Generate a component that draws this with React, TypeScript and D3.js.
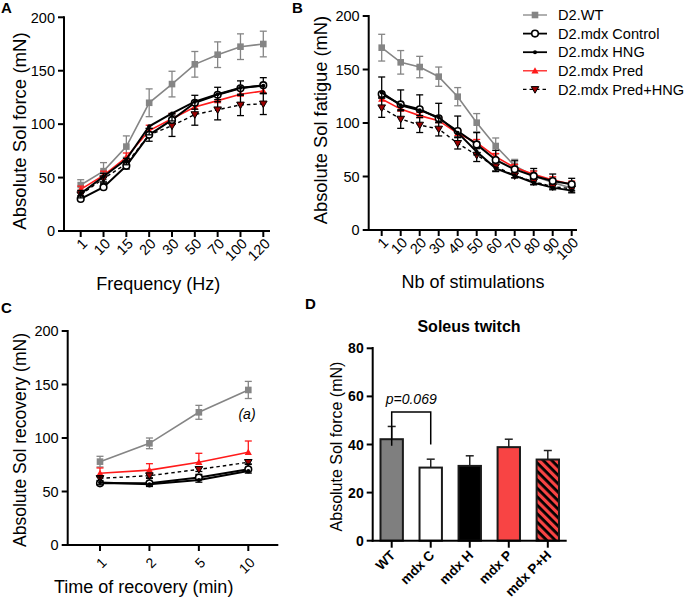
import React from "react";
import * as d3 from "d3";

// ---------- data ----------
const seriesNames = ["D2.WT", "D2.mdx Control", "D2.mdx HNG", "D2.mdx Pred", "D2.mdx Pred+HNG"];

const freqCats = ["1", "10", "15", "20", "30", "50", "70", "100", "120"];
const forceWT = [43, 56, 79, 120, 137.5, 156, 165, 172.5, 175];
const forceWTErr = [5, 8, 10, 13, 12, 12, 12, 12, 12];
const forceCtrl = [30, 41, 61, 90, 104, 120, 127.5, 133.5, 136.5];
const forceCtrlErr = [3, 4, 4, 6, 6, 7, 7, 7, 7];
const forceHNG = [35, 51, 67, 98, 110, 121, 128, 134, 136];
const forceHNGErr = [4, 5, 5, 8, 7, 7, 7, 7, 7.5];
const forcePred = [39, 52, 69, 94, 105, 116, 122, 128, 131];
const forcePredErr = [3, 4, 4, 5, 5, 5, 5, 5, 5];
const forcePH = [34, 49, 63, 90, 98.5, 109, 113.5, 118, 119];
const forcePHErr = [4, 5, 5, 6, 10, 10, 9.5, 10, 10];

const stimCats = ["1", "10", "20", "30", "40", "50", "60", "70", "80", "90", "100"];
const fatWT = [170.4, 156.7, 152.3, 143.3, 124.6, 100.3, 78.5, 60, 50.5, 44.5, 39];
const fatWTErr = [12.5, 11, 10, 9, 8.5, 8.5, 7.5, 6, 5, 4, 4];
const fatCtrl = [127, 117.4, 112.8, 104.4, 92.5, 80, 65.4, 56.7, 50.5, 45.8, 42.7];
const fatCtrlErr = [16, 13.5, 13.5, 14, 14, 11, 9, 8, 7, 6.5, 5.6];
const fatHNG = [128.5, 116.5, 112, 105.3, 91, 73.2, 57.6, 50.8, 44.2, 39.6, 36.8];
const fatHNGErr = [5, 5, 5, 5, 4, 3, 3, 2, 2, 2, 2];
const fatPred = [122.4, 113, 106.9, 102.2, 90.3, 81.6, 68.5, 58.3, 52, 46.7, 42.7];
const fatPredErr = [3, 3, 3, 3, 3, 3, 3, 3, 3, 3, 3];
const fatPH = [114.3, 103.7, 98.1, 94.4, 81, 70, 59.2, 50.8, 45.2, 40.5, 38.6];
const fatPHErr = [9, 8.7, 7, 6.5, 5.3, 6, 4, 2, 2.5, 2, 2];

const recCats = ["1", "2", "5", "10"];
const recWT = [77.9, 95, 124, 144.9];
const recWTErr = [5, 5, 6.5, 8];
const recCtrl = [57.6, 57.6, 63, 70.7];
const recCtrlErr = [6, 4.6, 3, 5];
const recHNG = [58.3, 56.7, 60.7, 69.2];
const recHNGErr = [2, 2, 2, 2];
const recPred = [67, 70, 77.3, 86.6];
const recPredErr = [5, 6, 8.4, 10.6];
const recPH = [62.3, 64.8, 70.7, 77.3];
const recPHErr = [2, 2, 2, 2];

const twitchCats = ["WT", "mdx C", "mdx H", "mdx P", "mdx P+H"];
const twitchMean = [42.2, 30.4, 31.1, 38.9, 33.75];
const twitchErr = [5.3, 3.5, 4.2, 3.3, 3.75];

const yTicks = [0, 50, 100, 150, 200];
const twitchTicks = [0, 20, 40, 60, 80];

// ---------- styles ----------
const FONT = "'Liberation Sans', Arial, sans-serif";
const GRAY = "#858585";
const RED = "#ff1a1a";
const BAR_RED = "#f84444";

type Dir = "both" | "up" | "down";
interface SeriesStyle {
  color: string;
  width: number;
  dash?: string;
  marker: "square" | "circle" | "dot" | "triUp" | "triDown";
  errColor: string;
  dir: Dir;
}
const styles: SeriesStyle[] = [
  { color: GRAY, width: 1.6, marker: "square", errColor: GRAY, dir: "both" },
  { color: "#000", width: 2, marker: "circle", errColor: "#000", dir: "up" },
  { color: "#000", width: 2, marker: "dot", errColor: "#000", dir: "down" },
  { color: RED, width: 1.6, marker: "triUp", errColor: RED, dir: "up" },
  { color: "#000", width: 1.4, dash: "3.5,3", marker: "triDown", errColor: "#000", dir: "both" },
];

function Marker({ kind, x, y }: { kind: SeriesStyle["marker"]; x: number; y: number }) {
  if (kind === "square") return <rect x={x - 3.3} y={y - 3.3} width={6.6} height={6.6} fill={GRAY} />;
  if (kind === "circle")
    return <circle cx={x} cy={y} r={3.3} fill="#fff" stroke="#000" strokeWidth={1.6} />;
  if (kind === "dot") return <circle cx={x} cy={y} r={2} fill="#000" />;
  if (kind === "triUp")
    return <path d={`M${x},${y - 3.6}L${x + 3.6},${y + 2.6}L${x - 3.6},${y + 2.6}Z`} fill={RED} />;
  return (
    <path
      d={`M${x - 3.8},${y - 2.8}L${x + 3.8},${y - 2.8}L${x},${y + 3.8}Z`}
      fill="#9b0000"
      stroke="#000"
      strokeWidth={1}
    />
  );
}

interface LinePanelProps {
  cats: string[];
  values: number[][];
  errs: number[][];
  axisX: number;
  y0: number;
  yTop: number;
  firstX: number;
  lastX: number;
  axisEnd: number;
  yTitle: string;
  xTitle: string;
  xTitleX: number;
  xTitleY: number;
  yTitleX: number;
  yTitleY: number;
  yTitleSize: number;
  tickFont?: number;
  labelDx?: number;
  labelDy?: number;
}

function LinePanel(p: LinePanelProps) {
  const x = d3.scalePoint<string>().domain(p.cats).range([p.firstX, p.lastX]);
  const y = d3.scaleLinear().domain([0, 200]).range([p.y0, p.yTop]);
  const order = [0, 3, 4, 1, 2];
  const ldx = p.labelDx ?? 4;
  const ldy = p.labelDy ?? 10;
  return (
    <g fontFamily={FONT}>
      {/* series: error bars, lines, markers */}
      {order.map((si) => {
        const st = styles[si];
        const vals = p.values[si];
        const errs = p.errs[si];
        const line = d3
          .line<number>()
          .x((_, i) => x(p.cats[i])!)
          .y((v) => y(v));
        return (
          <g key={si}>
            {vals.map((v, i) => {
              const cx = x(p.cats[i])!;
              const hi = st.dir === "down" ? v : v + errs[i];
              const lo = st.dir === "up" ? v : v - errs[i];
              return (
                <g key={i} stroke={st.errColor} strokeWidth={1.3}>
                  <line x1={cx} x2={cx} y1={y(hi)} y2={y(lo)} />
                  {st.dir !== "down" && <line x1={cx - 3.5} x2={cx + 3.5} y1={y(hi)} y2={y(hi)} />}
                  {st.dir !== "up" && <line x1={cx - 3.5} x2={cx + 3.5} y1={y(lo)} y2={y(lo)} />}
                </g>
              );
            })}
            <path
              d={line(vals)!}
              fill="none"
              stroke={st.color}
              strokeWidth={st.width}
              strokeDasharray={st.dash}
            />
            {vals.map((v, i) => (
              <Marker key={i} kind={st.marker} x={x(p.cats[i])!} y={y(v)} />
            ))}
          </g>
        );
      })}
      {/* axes */}
      <line x1={p.axisX} x2={p.axisX} y1={p.yTop - 1} y2={p.y0 + 1} stroke="#000" strokeWidth={2} />
      <line x1={p.axisX - 1} x2={p.axisEnd} y1={p.y0} y2={p.y0} stroke="#000" strokeWidth={2} />
      {yTicks.map((t) => (
        <g key={t}>
          <line x1={p.axisX - 6} x2={p.axisX} y1={y(t)} y2={y(t)} stroke="#000" strokeWidth={2} />
          <text x={p.axisX - 9} y={y(t)} dy="0.36em" textAnchor="end" fontSize={14.5}>
            {t}
          </text>
        </g>
      ))}
      {p.cats.map((c) => (
        <g key={c}>
          <line x1={x(c)!} x2={x(c)!} y1={p.y0} y2={p.y0 + 6} stroke="#000" strokeWidth={2} />
          <text
            transform={`translate(${x(c)! + ldx},${p.y0 + ldy}) rotate(-45)`}
            textAnchor="end"
            dy="0.35em"
            fontSize={p.tickFont ?? 14.5}
          >
            {c}
          </text>
        </g>
      ))}
      <text x={p.xTitleX} y={p.xTitleY} textAnchor="middle" fontSize={18}>
        {p.xTitle}
      </text>
      <text
        transform={`translate(${p.yTitleX},${p.yTitleY}) rotate(-90)`}
        textAnchor="middle"
        fontSize={p.yTitleSize}
      >
        {p.yTitle}
      </text>
    </g>
  );
}

function Legend({ x, y }: { x: number; y: number }) {
  return (
    <g fontFamily={FONT}>
      {seriesNames.map((n, i) => {
        const st = styles[i];
        const yy = y + i * 18.6;
        return (
          <g key={n}>
            <line
              x1={x}
              x2={x + 24}
              y1={yy}
              y2={yy}
              stroke={st.color}
              strokeWidth={st.width === 2 ? 1.8 : 1.3}
              strokeDasharray={st.dash}
            />
            <Marker kind={st.marker} x={x + 12} y={yy} />
            <text x={x + 35} y={yy} dy="0.36em" fontSize={14.6}>
              {n}
            </text>
          </g>
        );
      })}
    </g>
  );
}

function TwitchPanel() {
  const axisX = 372.7;
  const y0 = 540.7;
  const x = d3.scaleBand<string>().domain(twitchCats).range([379.5, 560]).paddingInner(0.375).paddingOuter(0);
  const y = d3.scaleLinear().domain([0, 80]).range([y0, 348.3]);
  const bw = x.bandwidth();
  const cx = (c: string) => x(c)! + bw / 2;
  const fills = ["#7f7f7f", "#ffffff", "#000000", BAR_RED, "url(#stripes)"];
  const brX1 = cx(twitchCats[0]);
  const brX2 = cx(twitchCats[1]);
  return (
    <g fontFamily={FONT}>
      <defs>
        <pattern id="stripes" patternUnits="userSpaceOnUse" width={6} height={6} patternTransform="rotate(45)">
          <rect width={6} height={6} fill={BAR_RED} />
          <rect x={0} y={0} width={6} height={2.8} fill="#000" />
        </pattern>
      </defs>
      {twitchCats.map((c, i) => {
        const top = y(twitchMean[i]);
        const et = y(twitchMean[i] + twitchErr[i]);
        return (
          <g key={c}>
            <line x1={cx(c)} x2={cx(c)} y1={top} y2={et} stroke="#222" strokeWidth={1.5} />
            <line x1={cx(c) - 4} x2={cx(c) + 4} y1={et} y2={et} stroke="#222" strokeWidth={1.5} />
            <rect x={x(c)! + 1} y={top} width={bw - 2} height={y0 - top} fill={fills[i]} stroke="#1a1a1a" strokeWidth={2} />
          </g>
        );
      })}
      <line x1={axisX} x2={axisX} y1={347} y2={y0 + 1} stroke="#000" strokeWidth={2} />
      <line x1={axisX - 1} x2={566.7} y1={y0} y2={y0} stroke="#000" strokeWidth={2} />
      {twitchTicks.map((t) => (
        <g key={t}>
          <line x1={axisX - 6} x2={axisX} y1={y(t)} y2={y(t)} stroke="#000" strokeWidth={2} />
          <text x={axisX - 9} y={y(t)} dy="0.36em" textAnchor="end" fontSize={14} fontWeight="bold">
            {t}
          </text>
        </g>
      ))}
      {twitchCats.map((c) => (
        <g key={c}>
          <line x1={cx(c)} x2={cx(c)} y1={y0} y2={y0 + 7} stroke="#000" strokeWidth={2} />
          <text
            transform={`translate(${cx(c) + 1},${y0 + 12}) rotate(-45)`}
            textAnchor="end"
            dy="0.35em"
            fontSize={13.5}
            fontWeight="bold"
          >
            {c}
          </text>
        </g>
      ))}
      {/* significance bracket */}
      <path
        d={`M${brX1},${y(39.5)}V${y(53.5)}H${brX2}V${y(40)}`}
        fill="none"
        stroke="#000"
        strokeWidth={1.5}
      />
      <text x={(brX1 + brX2) / 2} y={y(54.5) - 6} textAnchor="middle" fontSize={14} fontStyle="italic">
        p=0.069
      </text>
      <text x={469} y={332} textAnchor="middle" fontSize={16} fontWeight="bold">
        Soleus twitch
      </text>
      <text
        transform={`translate(341.5,${(y0 + 348.3) / 2 + 2}) rotate(-90)`}
        textAnchor="middle"
        fontSize={16}
      >
        Absolute Sol force (mN)
      </text>
    </g>
  );
}

export default function App() {
  return (
    <svg width={686} height={601} style={{ display: "block", position: "absolute", left: 0, top: 0 }}>
      <rect width={686} height={601} fill="#fff" />
      <g fontFamily={FONT} fontWeight="bold" fontSize={15}>
        <text x={1} y={13}>A</text>
        <text x={292} y={13}>B</text>
        <text x={1} y={313}>C</text>
        <text x={305} y={309}>D</text>
      </g>
      <LinePanel
        cats={freqCats}
        values={[forceWT, forceCtrl, forceHNG, forcePred, forcePH]}
        errs={[forceWTErr, forceCtrlErr, forceHNGErr, forcePredErr, forcePHErr]}
        axisX={64}
        y0={231}
        yTop={17.3}
        firstX={80.7}
        lastX={263.3}
        axisEnd={270}
        yTitle="Absolute Sol force (mN)"
        xTitle="Frequency (Hz)"
        xTitleX={158.3}
        xTitleY={290}
        yTitleX={26}
        yTitleY={131}
        yTitleSize={18.6}
      />
      <LinePanel
        cats={stimCats}
        values={[fatWT, fatCtrl, fatHNG, fatPred, fatPH]}
        errs={[fatWTErr, fatCtrlErr, fatHNGErr, fatPredErr, fatPHErr]}
        axisX={368.7}
        y0={230}
        yTop={16}
        firstX={381.7}
        lastX={571.7}
        axisEnd={577}
        yTitle="Absolute Sol fatigue (mN)"
        xTitle="Nb of stimulations"
        xTitleX={473}
        xTitleY={288}
        yTitleX={327}
        yTitleY={120}
        yTitleSize={18.3}
      />
      <Legend x={523} y={15} />
      <LinePanel
        cats={recCats}
        values={[recWT, recCtrl, recHNG, recPred, recPH]}
        errs={[recWTErr, recCtrlErr, recHNGErr, recPredErr, recPHErr]}
        axisX={67.7}
        y0={545}
        yTop={331}
        firstX={100}
        lastX={248.3}
        axisEnd={278.3}
        yTitle="Absolute Sol recovery (mN)"
        xTitle="Time of recovery (min)"
        xTitleX={143.7}
        xTitleY={593}
        yTitleX={26}
        yTitleY={440}
        yTitleSize={17.5}
        tickFont={14}
        labelDx={4}
        labelDy={15}
      />
      <text x={247} y={419} textAnchor="middle" fontFamily={FONT} fontSize={14} fontStyle="italic">
        (a)
      </text>
      <TwitchPanel />
    </svg>
  );
}
